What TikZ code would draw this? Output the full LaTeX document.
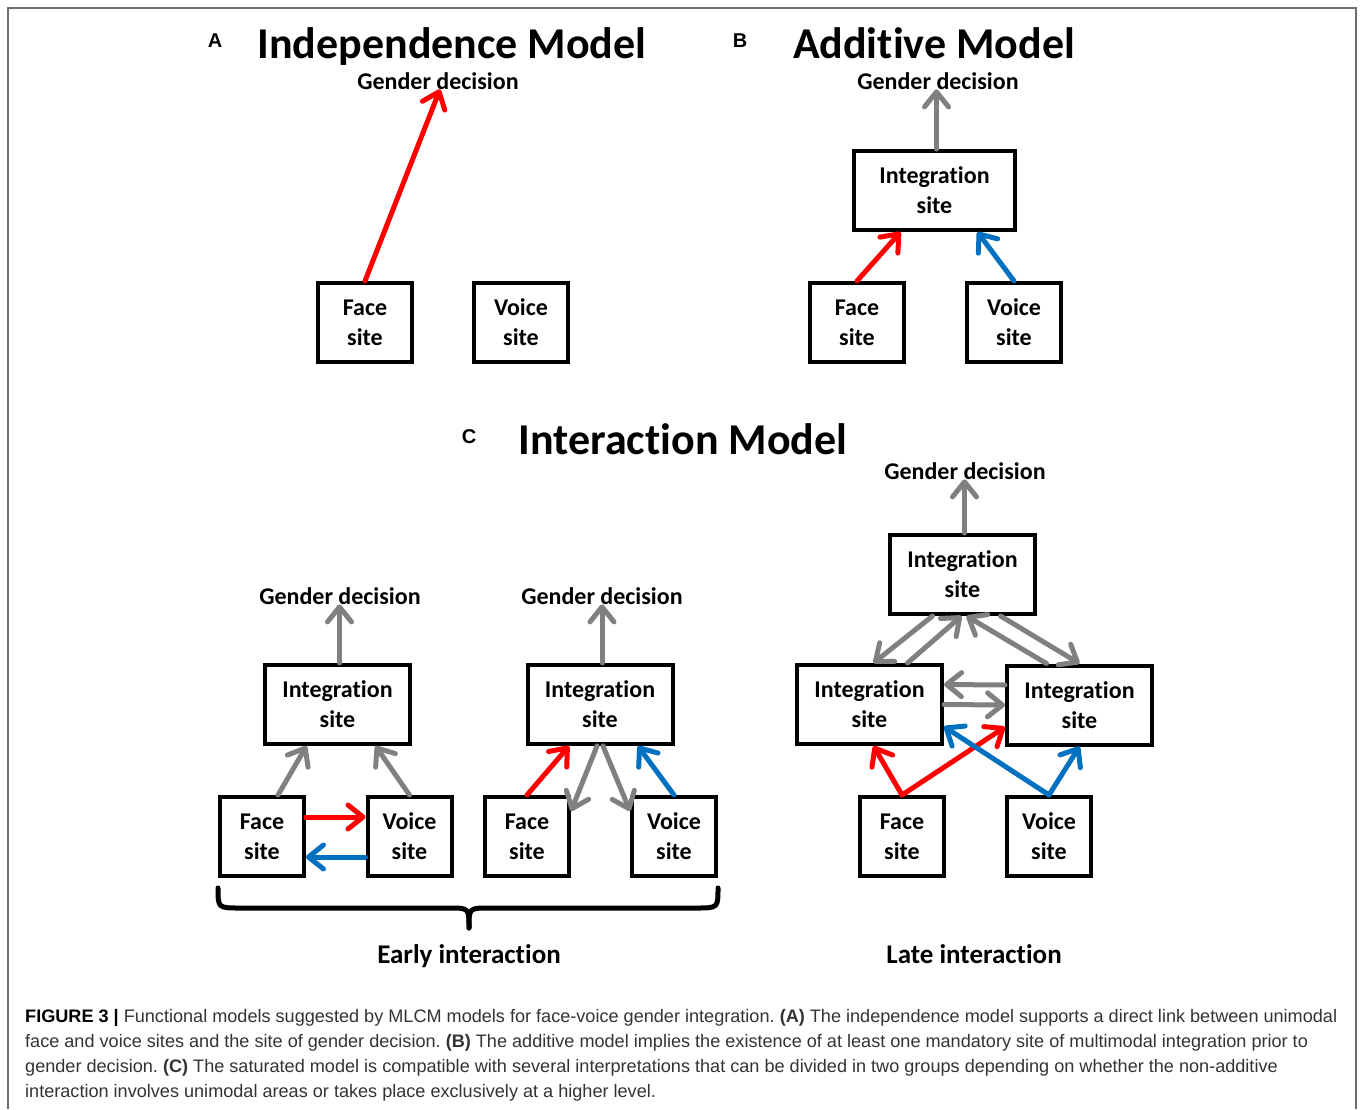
\documentclass[tikz,border=0pt]{standalone}
\usepackage{fontspec}
\setmainfont{Carlito}[Ligatures=NoCommon]
\newfontfamily\capfont{Liberation Sans}
\usetikzlibrary{arrows.meta,calc}
\frenchspacing

\definecolor{arrowred}{RGB}{255,0,0}
\definecolor{arrowblue}{RGB}{0,112,192}
\definecolor{arrowgray}{RGB}{128,128,128}
\definecolor{captext}{RGB}{51,51,51}
\definecolor{framegray}{RGB}{110,110,110}

\tikzset{
  sitebox/.style={draw, line width=4pt, align=center, inner sep=0pt,
    minimum width=#1, minimum height=79pt,
    font=\bfseries\fontsize{24}{30}\selectfont},
  sitebox/.default=94pt,
  decision/.style={anchor=base, inner sep=0pt, font=\bfseries\fontsize{24}{28}\selectfont},
  modeltitle/.style={anchor=base, inner sep=0pt, font=\bfseries\fontsize{44}{50}\selectfont},
  panelletter/.style={anchor=base, inner sep=0pt, font=\capfont\bfseries\fontsize{20}{24}\selectfont},
  grouplabel/.style={anchor=base, inner sep=0pt, font=\bfseries\fontsize{27}{32}\selectfont},
  capline/.style={anchor=base west, inner sep=0pt, text=captext,
    font=\capfont\fontsize{18.1}{25}\selectfont},
  flow/.style={line width=5pt, line cap=round,
    -{Straight Barb[length=15pt,width=24pt,round]}},
  braceline/.style={line width=5pt, line cap=round, line join=round}
}

\begin{document}
\begin{tikzpicture}[x=1pt,y=-1pt]
  \useasboundingbox (0,0) rectangle (1360,1109);
  % Frame
  \draw[framegray, line width=1.5pt] (8,1109) -- (8,8) -- (1356,8) -- (1356,1109);

  % A: independence model
  \node[panelletter] (labA) at (215,47) {A};
  \node[modeltitle] (titA) at (452,58) {Independence Model};
  \node[decision] (gdA) at (438,89) {Gender decision};
  \node[sitebox] (faceA) at (365,322.5) {Face\\site};
  \node[sitebox] (voiceA) at (521,322.5) {Voice\\site};
  \draw[flow, arrowred] (faceA.north) -- ([xshift=2pt]gdA.south);

  % B: additive model
  \node[panelletter] (labB) at (740,47) {B};
  \node[modeltitle] (titB) at (934,58) {Additive Model};
  \node[decision] (gdB) at (938,89) {Gender decision};
  \node[sitebox=161pt] (intB) at (934.5,190.5) {Integration\\site};
  \node[sitebox] (faceB) at (857,322.5) {Face\\site};
  \node[sitebox] (voiceB) at (1014,322.5) {Voice\\site};
  \draw[flow, arrowgray] ([xshift=2pt]intB.north) -- ([xshift=2pt]intB.north |- gdB.south);
  \draw[flow, arrowred] (faceB.north) -- ([xshift=-34pt]intB.south);
  \draw[flow, arrowblue] (voiceB.north) -- ([xshift=43pt]intB.south);

  % C: interaction model
  \node[panelletter] (labC) at (469,443) {C};
  \node[modeltitle] (titC) at (683,454) {Interaction Model};

  % early interaction, unimodal exchange
  \node[decision] (gdE1) at (340,604) {Gender decision};
  \node[sitebox=145pt] (intE1) at (337.5,704.5) {Integration\\site};
  \node[sitebox=84pt] (faceE1) at (262,836.5) {Face\\site};
  \node[sitebox=84pt] (voiceE1) at (409.5,836.5) {Voice\\site};
  \draw[flow, arrowgray] ([xshift=2pt]intE1.north) -- ([xshift=2pt]intE1.north |- gdE1.south);
  \draw[flow, arrowgray] ([xshift=16pt]faceE1.north) -- ([xshift=-31pt]intE1.south);
  \draw[flow, arrowgray] (voiceE1.north) -- ([xshift=38pt]intE1.south);
  \draw[flow, arrowred] ([yshift=19.5pt]faceE1.east) -- ([yshift=19.5pt]voiceE1.west);
  \draw[flow, arrowblue] ([yshift=-20.5pt]voiceE1.west) -- ([yshift=-20.5pt]faceE1.east);

  % early interaction, feedback
  \node[decision] (gdE2) at (602,604) {Gender decision};
  \node[sitebox=145pt] (intE2) at (600,704.5) {Integration\\site};
  \node[sitebox=84pt] (faceE2) at (527,836.5) {Face\\site};
  \node[sitebox=84pt] (voiceE2) at (674,836.5) {Voice\\site};
  \draw[flow, arrowgray] ([xshift=2pt]intE2.north) -- ([xshift=2pt]intE2.north |- gdE2.south);
  \draw[flow, arrowred] (faceE2.north) -- ([xshift=-31pt]intE2.south);
  \draw[flow, arrowblue] (voiceE2.north) -- ([xshift=38pt]intE2.south);
  \draw[flow, arrowgray] ([xshift=-3pt]intE2.south) -- ([yshift=-16pt]faceE2.north east);
  \draw[flow, arrowgray] ([xshift=3pt]intE2.south) -- ([yshift=-16pt]voiceE2.north west);

  % brace under the early models
  \draw[braceline] (218,888) .. controls (218,908) .. (240,908) -- (449,908)
    .. controls (469,908) .. (469,928);
  \draw[braceline] (718,888) .. controls (718,908) .. (696,908) -- (489,908)
    .. controls (469,908) .. (469,928);
  \node[grouplabel] (earlyLbl) at (469,963) {Early interaction};

  % late interaction
  \node[decision] (gdL) at (965,479) {Gender decision};
  \node[sitebox=145pt] (intTop) at (962.5,574.5) {Integration\\site};
  \node[sitebox=145pt] (intLeft) at (869.5,704.5) {Integration\\site};
  \node[sitebox=145pt] (intRight) at (1079.5,705) {Integration\\site};
  \node[sitebox=84pt] (faceL) at (902,836.5) {Face\\site};
  \node[sitebox=84pt] (voiceL) at (1049,836.5) {Voice\\site};
  \draw[flow, arrowgray] ([xshift=2pt]intTop.north) -- ([xshift=2pt]intTop.north |- gdL.south);
  \draw[flow, arrowgray] ([xshift=-30pt]intTop.south) -- ([xshift=4pt]intLeft.north);
  \draw[flow, arrowgray] ([xshift=38pt]intLeft.north) -- ([xshift=-1pt]intTop.south);
  \draw[flow, arrowgray] ([xshift=-33pt]intRight.north) -- ([xshift=4pt]intTop.south);
  \draw[flow, arrowgray] ([xshift=38pt]intTop.south) -- (intRight.north);
  \draw[flow, arrowgray] ([yshift=20pt]intRight.west) -- ([yshift=20pt]intLeft.east);
  \draw[flow, arrowgray] (intLeft.east) -- (intRight.west);
  \draw[flow, arrowred] (faceL.north) -- ([xshift=4pt]intLeft.south);
  \draw[flow, arrowred] (faceL.north) -- ([yshift=-22pt]intRight.west);
  \draw[flow, arrowblue] (voiceL.north) -- ([yshift=-22pt]intLeft.east);
  \draw[flow, arrowblue] (voiceL.north) -- (intRight.south);
  \node[grouplabel] (lateLbl) at (974,963) {Late interaction};

  % Caption
  \node[capline] (cap1) at (25,1022) {\textbf{\color{black}FIGURE 3 |} Functional models suggested by MLCM models for face-voice gender integration. \textbf{(A)} The independence model supports a direct link between unimodal};
  \node[capline] (cap2) at (25,1047) {face and voice sites and the site of gender decision. \textbf{(B)} The additive model implies the existence of at least one mandatory site of multimodal integration prior to};
  \node[capline] (cap3) at (25,1072) {gender decision. \textbf{(C)} The saturated model is compatible with several interpretations that can be divided in two groups depending on whether the non-additive};
  \node[capline] (cap4) at (25,1097) {interaction involves unimodal areas or takes place exclusively at a higher level.};
\end{tikzpicture}
\end{document}
